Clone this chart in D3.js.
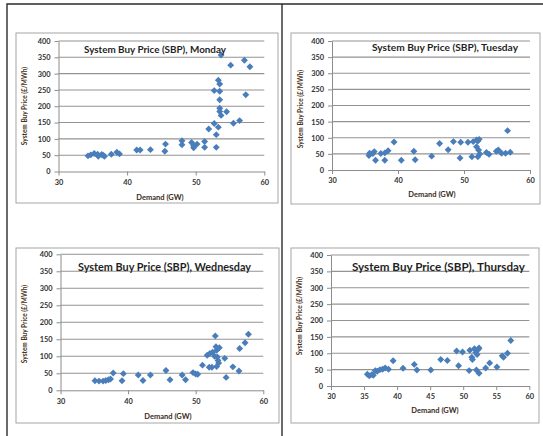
<!DOCTYPE html>
<html>
<head>
<meta charset="utf-8">
<script src="https://cdn.jsdelivr.net/npm/d3@7"></script>
<style>
  body { margin: 0; background: #fff; }
  svg { display: block; font-family: Lato, "Open Sans", sans-serif; }
</style>
</head>
<body>
<svg></svg>
<script>
// demand (GW), SBP (£/MWh)
const monday = [
  [34.3,48],[34.7,51],[35.2,55],[35.7,53],[35.8,47],[36.3,52],[36.5,50],[36.7,47],[37.7,53],[38.5,59],
  [38.9,54],[41.4,66],[41.9,66],[43.4,67],[45.5,62],[45.6,84],[48.0,94],[48.0,82],[49.4,89],[49.7,79],
  [49.7,73],[50.2,84],[51.3,92],[51.3,74],[51.9,130],[52.7,147],[52.7,248],[53.0,74],[53.0,113],[53.3,136],
  [53.3,280],[53.5,268],[53.5,246],[53.5,220],[53.5,194],[53.5,184],[53.7,172],[53.7,357],[54.5,183],[55.1,326],
  [55.5,148],[56.4,156],[57.1,341],[57.3,235],[57.9,321]
];
const tuesday = [
  [35.6,45],[35.7,52],[36.2,51],[36.4,57],[36.6,30],[37.4,51],[38.0,30],[38.0,53],[38.5,60],[39.4,87],
  [40.5,30],[42.4,58],[42.6,32],[45.1,43],[46.3,82],[47.6,63],[48.4,88],[49.4,37],[49.5,86],[50.6,86],
  [51.2,41],[51.4,88],[51.9,93],[52.1,90],[52.3,95],[51.9,72],[52.2,62],[52.1,41],[52.4,50],[53.4,54],
  [53.8,49],[54.9,58],[55.2,62],[55.7,52],[56.3,52],[56.6,122],[57.0,55]
];
const wednesday = [
  [35.1,28],[35.7,27],[36.3,27],[36.7,29],[37.1,31],[37.4,33],[37.8,51],[39.1,28],[39.3,49],[41.5,45],
  [42.2,29],[43.3,45],[45.6,58],[46.2,31],[48.0,45],[48.5,31],[49.6,52],[50.0,48],[50.3,47],[51.0,74],
  [51.7,103],[52.0,68],[52.1,108],[52.4,68],[52.5,112],[52.8,100],[52.9,160],[53.0,128],[53.1,118],[53.2,98],
  [53.3,88],[53.1,70],[53.4,80],[53.5,125],[54.3,94],[54.5,38],[55.5,69],[56.4,57],[56.5,123],[57.3,140],
  [57.8,165]
];
const thursday = [
  [35.5,36],[35.8,31],[36.2,35],[36.4,33],[36.7,47],[37.0,45],[37.4,50],[37.8,51],[38.2,55],[38.7,51],
  [39.4,77],[40.9,54],[42.6,66],[43.0,49],[45.1,49],[46.6,81],[47.6,78],[49.0,107],[49.3,62],[49.9,104],
  [50.9,47],[51.0,109],[51.3,88],[51.4,81],[51.7,114],[51.9,102],[52.0,49],[52.3,112],[52.4,116],[52.4,39],
  [52.1,96],[53.4,55],[54.0,70],[55.1,58],[55.9,92],[56.1,88],[56.7,100],[57.2,139]
];

const titles = [
  "System Buy Price (SBP), Monday",
  "System Buy Price (SBP), Tuesday",
  "System Buy Price (SBP), Wednesday",
  "System Buy Price (SBP), Thursday"
];
const yTicks = [0, 50, 100, 150, 200, 250, 300, 350, 400];
const xTicksTen = [30, 40, 50, 60];
const xTicksFive = [30, 35, 40, 45, 50, 55, 60];
const xLabel = "Demand (GW)";
const yLabel = "System Buy Price (£/MWh)";

const svg = d3.select("svg").attr("width", 543).attr("height", 436);

// table lines around the four charts
svg.append("path")
  .attr("d", "M7,436V4H543M282,4V436")
  .attr("fill", "none")
  .attr("stroke", "#2b2b2b")
  .attr("stroke-width", 1.4);

const panels = [
  { data: monday, xt: xTicksTen, box: [16, 33, 278, 203], xr: [58.5, 264.3], yr: [171.5, 41],
    title: [84, 53, 142, 9.5], xl: [160, 200], yl: [25, 106] },
  { data: tuesday, xt: xTicksTen, box: [291, 33, 540, 204], xr: [332, 530], yr: [170, 41],
    title: [372, 51, 146, 9.5], xl: [432, 197], yl: [301, 109] },
  { data: wednesday, xt: xTicksTen, box: [16, 248, 279, 423], xr: [60.5, 263.3], yr: [390.3, 254.3],
    title: [78, 270.5, 173, 10.5], xl: [168, 419], yl: [25, 324] },
  { data: thursday, xt: xTicksFive, box: [291, 248, 539, 423], xr: [331, 529.3], yr: [386, 255],
    title: [352, 270.5, 173, 11.5], xl: [435, 413], yl: [300, 316] }
];

const diamond = d3.symbol().type(d3.symbolSquare).size(24);

panels.forEach((p, i) => {
  const g = svg.append("g");
  const [bx0, by0, bx1, by1] = p.box;

  g.append("rect")
    .attr("x", bx0).attr("y", by0)
    .attr("width", bx1 - bx0).attr("height", by1 - by0)
    .attr("fill", "#fff")
    .attr("stroke", "#a6a6a6")
    .attr("stroke-width", 1);

  const x = d3.scaleLinear().domain([30, 60]).range(p.xr);
  const y = d3.scaleLinear().domain([0, 400]).range(p.yr);

  // horizontal gridlines
  g.append("g")
    .selectAll("line")
    .data(yTicks.filter(d => d > 0))
    .join("line")
    .attr("x1", p.xr[0]).attr("x2", p.xr[1])
    .attr("y1", d => y(d)).attr("y2", d => y(d))
    .attr("stroke", "#939393")
    .attr("stroke-width", 1.1);

  const yAxis = g.append("g")
    .attr("transform", `translate(${p.xr[0]},0)`)
    .call(d3.axisLeft(y).tickValues(yTicks).tickSize(4).tickSizeOuter(0).tickPadding(4));
  const xAxis = g.append("g")
    .attr("transform", `translate(0,${p.yr[0]})`)
    .call(d3.axisBottom(x).tickValues(p.xt).tickSize(4).tickSizeOuter(0).tickPadding(4));

  [yAxis, xAxis].forEach(a => {
    a.select(".domain").attr("stroke", "#8c8c8c");
    a.selectAll(".tick line").attr("stroke", "#8c8c8c");
    a.selectAll(".tick text")
      .attr("fill", "#333")
      .style("font-size", "7.4px")
      .style("font-weight", "bold")
      .style("font-family", "Lato, sans-serif");
  });

  g.append("g")
    .selectAll("path")
    .data(p.data)
    .join("path")
    .attr("d", diamond)
    .attr("transform", d => `translate(${x(d[0])},${y(d[1])}) rotate(45)`)
    .attr("fill", "#4a7ebb");

  const [tx, ty, tw, ts] = p.title;
  g.append("text")
    .attr("x", tx).attr("y", ty)
    .attr("textLength", tw)
    .attr("lengthAdjust", "spacingAndGlyphs")
    .style("font-size", ts + "px")
    .style("font-weight", "bold")
    .attr("fill", "#1f1f1f")
    .text(titles[i]);

  g.append("text")
    .attr("x", p.xl[0]).attr("y", p.xl[1])
    .attr("text-anchor", "middle")
    .style("font-size", "7.5px")
    .style("font-weight", "bold")
    .attr("fill", "#3a2a1a")
    .text(xLabel);

  g.append("text")
    .attr("transform", `translate(${p.yl[0] + 2},${p.yl[1]}) rotate(-90)`)
    .attr("text-anchor", "middle")
    .style("font-size", "6.5px")
    .style("font-weight", "bold")
    .attr("fill", "#4a3118")
    .text(yLabel);
});
</script>
</body>
</html>
